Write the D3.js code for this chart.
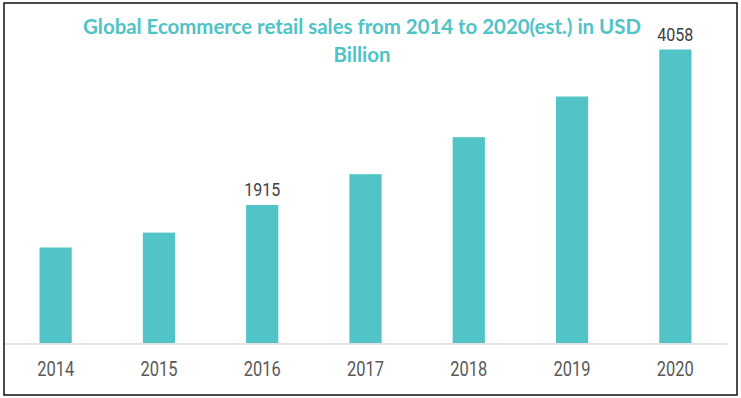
<!DOCTYPE html>
<html>
<head>
<meta charset="utf-8">
<script src="https://cdn.jsdelivr.net/npm/d3@7"></script>
<style>
  body { margin: 0; background: #fff; }
  svg { display: block; }
</style>
</head>
<body>
<div id="chart"></div>
<script>
      var outerWidth  = 741;
      var outerHeight = 398;

      // data
      var years  = ["2014", "2015", "2016", "2017", "2018", "2019", "2020"];
      var sales  = [1330, 1535, 1915, 2340, 2850, 3410, 4058];
      var labelled = ["2016", "2020"];
      var titleLines = ["Global Ecommerce retail sales from 2014 to 2020(est.) in USD", "Billion"];

      var baseY = 344;
      var teal = "#52c4c8";

      var svg = d3.select("#chart").append("svg")
        .attr("width",  outerWidth)
        .attr("height", outerHeight);

      // frame
      svg.append("rect")
        .attr("x", 4).attr("y", 3)
        .attr("width", 733).attr("height", 392)
        .attr("fill", "none")
        .attr("stroke", "#111")
        .attr("stroke-width", 1.5);

      var xScale = d3.scaleBand()
        .domain(years)
        .range([4, 727])
        .paddingInner(0.688)
        .paddingOuter(0.344);

      var yScale = d3.scaleLinear()
        .domain([0, 4058])
        .range([baseY, 49.5]);

      // bars
      svg.selectAll("rect.bar").data(years).enter().append("rect")
        .attr("class", "bar")
        .attr("x", function (d){ return xScale(d); })
        .attr("width", xScale.bandwidth())
        .attr("y", function (d, i){ return yScale(sales[i]); })
        .attr("height", function (d, i){ return baseY - yScale(sales[i]); })
        .attr("fill", teal);

      // baseline axis
      var xAxis = d3.axisBottom(xScale).tickSize(0).tickPadding(0);
      var axisG = svg.append("g")
        .attr("transform", "translate(0," + baseY + ")")
        .call(xAxis);
      axisG.select(".domain")
        .attr("d", "M5,0H727")
        .attr("stroke", "#e3e3e3")
        .attr("stroke-width", 2);
      axisG.selectAll(".tick text")
        .attr("y", 32)
        .attr("dy", null)
        .attr("fill", "#595959")
        .style("font-family", "Roboto, sans-serif")
        .style("font-size", "19.5px")
        .attr("textLength", 37)
        .attr("lengthAdjust", "spacingAndGlyphs");

      // value labels
      svg.selectAll("text.val").data(years.filter(function (d){ return labelled.indexOf(d) >= 0; }))
        .enter().append("text")
        .attr("class", "val")
        .attr("x", function (d){ return xScale(d) + xScale.bandwidth() / 2; })
        .attr("y", function (d){ return yScale(sales[years.indexOf(d)]) - 9; })
        .attr("text-anchor", "middle")
        .attr("fill", "#404040")
        .style("font-family", "Roboto, sans-serif")
        .style("font-size", "19px")
        .attr("textLength", 36)
        .attr("lengthAdjust", "spacingAndGlyphs")
        .text(function (d){ return sales[years.indexOf(d)]; });

      // title
      svg.selectAll("text.title").data(titleLines).enter().append("text")
        .attr("class", "title")
        .attr("x", 362)
        .attr("y", function (d, i){ return 33.5 + i * 28; })
        .attr("text-anchor", "middle")
        .attr("fill", "#4fc3c6")
        .style("font-family", "Lato, sans-serif")
        .style("font-weight", "bold")
        .style("font-size", "20.4px")
        .text(function (d){ return d; });
</script>
</body>
</html>
